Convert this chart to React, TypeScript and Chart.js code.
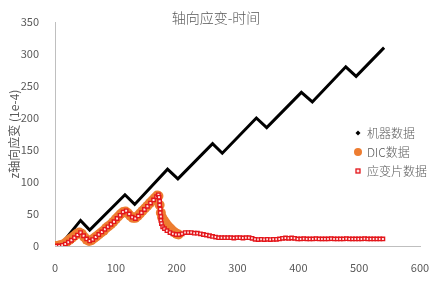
import React, { useEffect, useRef } from "react";
import { Chart, registerables } from "chart.js";

Chart.register(...registerables);

const titleText = "轴向应变-时间";
const yTitleText = "z轴向应变 (1e-4)";
const seriesNames = ["机器数据", "DIC数据", "应变片数据"];

const machineX = [8, 42, 57, 115, 131, 185, 202, 259, 275, 331, 348, 405, 423, 478, 495, 541];
const machineY = [0, 40, 25, 80, 65, 120, 105, 160, 145, 200, 185, 240, 225, 280, 265, 310];

const dicX = [0, 4, 8, 12, 16, 20, 24, 28, 32, 36, 40, 44, 48, 52, 56, 60, 64, 68, 72, 76, 80, 84, 88, 92, 96, 100, 104, 108, 112, 116, 120, 124, 128, 132, 136, 140, 144, 148, 152, 156, 160, 164, 168, 170, 172, 174, 176, 179, 182, 185, 188, 191, 194, 197, 200, 203];
const dicY = [0, 0, 1, 2, 4, 7, 10, 13, 16, 19, 21, 19, 14, 10, 8, 9, 12, 15, 18, 21, 24, 28, 31, 34, 38, 42, 46, 50, 53, 54, 51, 47, 44, 44, 47, 51, 55, 59, 63, 67, 71, 75, 79, 78, 64, 52, 45, 40, 36, 32, 29, 26, 23, 21, 19, 18];

const gaugeX = [2, 7, 12, 17, 22, 27, 32, 37, 42, 47, 52, 57, 62, 67, 72, 77, 82, 87, 92, 97, 102, 107, 112, 117, 122, 127, 132, 137, 142, 147, 152, 157, 162, 167, 170, 171, 172, 172, 173, 173, 174, 174, 175, 177, 180, 184, 189, 194, 199, 204, 209, 214, 219, 224, 229, 234, 239, 244, 249, 254, 259, 264, 269, 274, 279, 284, 289, 294, 299, 304, 309, 314, 319, 324, 329, 334, 339, 344, 349, 354, 359, 364, 369, 374, 379, 384, 389, 394, 399, 404, 409, 414, 419, 424, 429, 434, 439, 444, 449, 454, 459, 464, 469, 474, 479, 484, 489, 494, 499, 504, 509, 514, 519, 524, 529, 534, 539];
const gaugeY = [0, 0, 1, 3, 6, 9, 13, 17, 21, 16, 11, 8, 10, 14, 18, 22, 26, 30, 34, 38, 43, 48, 53, 55, 50, 45, 43, 47, 52, 57, 62, 67, 72, 77, 80, 76, 70, 64, 58, 52, 46, 40, 35, 30, 27, 24, 21, 19, 18, 18, 19, 21, 21, 21, 20, 20, 19, 18, 17, 16, 15, 14, 13, 13, 13, 13, 13, 12.5, 13, 13, 12.5, 13, 13, 12, 10.5, 10, 10.5, 10, 10.5, 10, 10.5, 10.5, 11, 12, 12.5, 12, 12.5, 12, 11, 11, 11.5, 11, 11, 11, 11.5, 11, 11, 11, 11, 11.5, 11, 11, 11, 11, 11.5, 11, 11, 11, 11, 11, 11.5, 11, 11, 11, 11, 11, 11];

const xMin = 0, xMax = 600, xStep = 100;
const yMin = 0, yMax = 350, yStep = 50;

const FONT = '"Noto Sans CJK SC", "Noto Sans", sans-serif';
const GREY = "#595959";

const toPoints = (xs: number[], ys: number[]) => xs.map((x, i) => ({ x, y: ys[i] }));

const overlayPlugin = {
  id: "overlay",
  afterDraw(chart: any) {
    const ctx = chart.ctx as CanvasRenderingContext2D;
    ctx.save();
    ctx.fillStyle = GREY;
    ctx.textAlign = "center";
    ctx.textBaseline = "middle";
    ctx.font = `300 14px ${FONT}`;
    ctx.fillText(titleText, 216, 18);

    const mx = 358;
    const tx = 367;
    const rows = [133, 152, 171];
    ctx.font = `300 12px ${FONT}`;
    ctx.textAlign = "left";
    seriesNames.forEach((name, i) => {
      const y = rows[i];
      ctx.fillStyle = GREY;
      ctx.fillText(name, tx, y + 0.5);
      if (i === 0) {
        ctx.fillStyle = "#000";
        ctx.beginPath();
        ctx.moveTo(mx, y - 2.5);
        ctx.lineTo(mx + 2.5, y);
        ctx.lineTo(mx, y + 2.5);
        ctx.lineTo(mx - 2.5, y);
        ctx.closePath();
        ctx.fill();
      } else if (i === 1) {
        ctx.fillStyle = "#ED7D31";
        ctx.beginPath();
        ctx.arc(mx, y, 4, 0, Math.PI * 2);
        ctx.fill();
      } else {
        ctx.fillStyle = "#ffe6e6";
        ctx.fillRect(mx - 2, y - 2, 4, 4);
        ctx.strokeStyle = "#E3161B";
        ctx.lineWidth = 1.3;
        ctx.strokeRect(mx - 2, y - 2, 4, 4);
      }
    });
    ctx.restore();
  },
};

export default function App() {
  const ref = useRef<HTMLCanvasElement>(null);
  useEffect(() => {
    if (!ref.current) return;
    const chart = new Chart(ref.current, {
      type: "scatter",
      data: {
        datasets: [
          {
            label: seriesNames[0],
            data: toPoints(machineX, machineY),
            showLine: true,
            borderColor: "#000000",
            backgroundColor: "#000000",
            borderWidth: 3,
            pointRadius: 0,
            order: 2,
          },
          {
            label: seriesNames[1],
            data: toPoints(dicX, dicY),
            showLine: false,
            backgroundColor: "#ED7D31",
            borderColor: "#ED7D31",
            borderWidth: 0,
            pointRadius: 5,
            order: 1,
          },
          {
            label: seriesNames[2],
            data: toPoints(gaugeX, gaugeY),
            showLine: false,
            pointStyle: "rect",
            backgroundColor: "#ffe6e6",
            borderColor: "#E3161B",
            borderWidth: 1.4,
            pointRadius: 2.4,
            order: 0,
          },
        ],
      },
      options: {
        responsive: false,
        animation: false,
        devicePixelRatio: 1,
        layout: { padding: { left: 0, right: 19, top: 22, bottom: 0 } },
        plugins: {
          legend: { display: false },
          title: { display: false },
          tooltip: { enabled: false },
        },
        scales: {
          x: {
            type: "linear",
            min: xMin,
            max: xMax,
            grid: { display: false },
            border: { display: true, color: "#BFBFBF", width: 1 },
            ticks: { stepSize: xStep, color: GREY, padding: 7, font: { family: FONT, size: 11 }, maxRotation: 0 },
            afterFit: (s: any) => { s.height = 38; },
          },
          y: {
            type: "linear",
            min: yMin,
            max: yMax,
            grid: { display: false },
            border: { display: true, color: "#BFBFBF", width: 1 },
            ticks: { stepSize: yStep, color: GREY, padding: 8, font: { family: FONT, size: 11 } },
            title: {
              display: true,
              text: yTitleText,
              color: GREY,
              font: { family: FONT, size: 12 },
              padding: { top: 7, bottom: 0 },
            },
            afterFit: (s: any) => { s.width = 55; },
          },
        },
      },
      plugins: [overlayPlugin],
    });
    return () => chart.destroy();
  }, []);
  return (
    <div style={{ position: "fixed", left: 0, top: 0, width: 439, height: 284, background: "#fff" }}>
      <canvas ref={ref} width={439} height={284} style={{ display: "block" }} />
    </div>
  );
}
